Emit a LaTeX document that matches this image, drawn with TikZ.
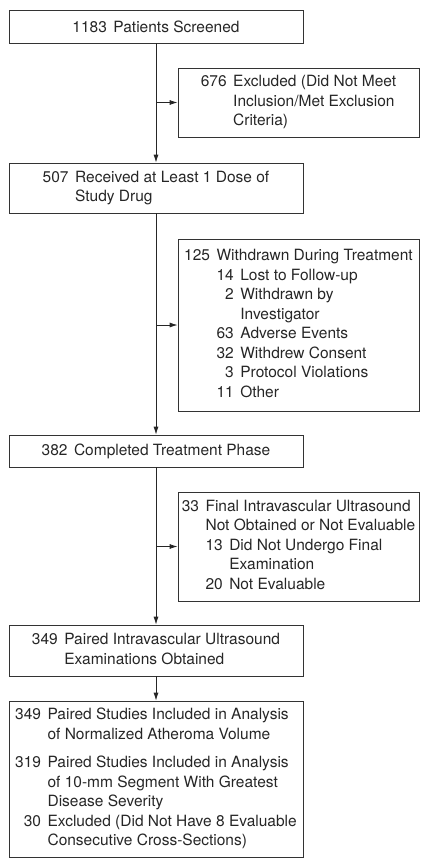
\documentclass[tikz,border=0pt]{standalone}
\usepackage{fontspec}
\setmainfont{TeX Gyre Heros}
\usetikzlibrary{arrows.meta}
\newcommand\gap{\hspace{6.5pt}}
\begin{document}
\begin{tikzpicture}[x=1pt,y=-1pt,
  box/.style={draw=black!80,line width=0.8pt,minimum width=294pt,inner sep=2pt,
    font=\fontsize{15.5}{19.5}\selectfont,text=black!85},
  side/.style={box,minimum width=241pt},
  arr/.style={draw=black!85,line width=0.8pt,-{Latex[length=8pt,width=5pt]}}]
 \useasboundingbox (0,0) rectangle (422,862);
 \node[box,minimum height=33pt] (screened) at (156,26.5) {1183\gap Patients Screened};
 \node[side,minimum height=69pt] (excluded) at (298.5,102.5) {\begin{tabular}{@{}r@{\gap}l@{}}
  676 & Excluded (Did Not Meet\\
      & Inclusion/Met Exclusion\\
      & Criteria)
 \end{tabular}};
 \node[box,minimum height=50pt] (received) at (156,188) {\begin{tabular}{@{}r@{\gap}l@{}}
  507 & Received at Least 1 Dose of\\
      & Study Drug
 \end{tabular}};
 \node[side,minimum height=172pt] (withdrawn) at (298.5,325) {\begin{tabular}{@{}r@{\gap}r@{\gap}l@{}}
  125 & \multicolumn{2}{@{}l@{}}{Withdrawn During Treatment}\\
      & 14 & Lost to Follow-up\\
      & 2  & Withdrawn by\\
      &    & Investigator\\
      & 63 & Adverse Events\\
      & 32 & Withdrew Consent\\
      & 3  & Protocol Violations\\
      & 11 & Other
 \end{tabular}};
 \node[box,minimum height=32pt] (completed) at (156,451) {382\gap Completed Treatment Phase};
 \node[side,minimum height=109pt] (noivus) at (298.5,546.5) {\begin{tabular}{@{}r@{\gap}r@{\gap}l@{}}
  33 & \multicolumn{2}{@{}l@{}}{Final Intravascular Ultrasound}\\
     & \multicolumn{2}{@{}l@{}}{Not Obtained or Not Evaluable}\\
     & 13 & Did Not Undergo Final\\
     &    & Examination\\
     & 20 & Not Evaluable
 \end{tabular}};
 \node[box,minimum height=51pt] (paired) at (156,650.5) {\begin{tabular}{@{}r@{\gap}l@{}}
  349 & Paired Intravascular Ultrasound\\
      & Examinations Obtained
 \end{tabular}};
 \node[box,minimum height=156pt] (analysis) at (156,779) {\begin{tabular}{@{}r@{\gap}l@{}}
  349 & Paired Studies Included in Analysis\\
      & of Normalized Atheroma Volume\\[9pt]
  319 & Paired Studies Included in Analysis\\
      & of 10-mm Segment With Greatest\\
      & Disease Severity\\
  30  & Excluded (Did Not Have 8 Evaluable\\
      & Consecutive Cross-Sections)
 \end{tabular}};
 \draw[arr] (screened) -- (received);
 \draw[arr] (received) -- (completed);
 \draw[arr] (completed) -- (paired);
 \draw[arr] (paired) -- (analysis);
 \draw[arr] (excluded.west -| screened) -- (excluded);
 \draw[arr] (withdrawn.west -| received) -- (withdrawn);
 \draw[arr] (noivus.west -| completed) -- (noivus);
\end{tikzpicture}
\end{document}
